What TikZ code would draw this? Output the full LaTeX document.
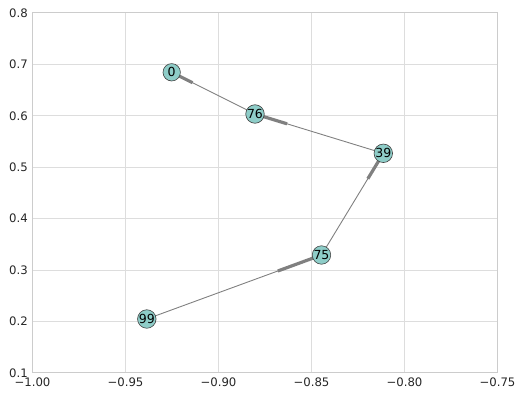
\documentclass[tikz,border=0pt]{standalone}
\usepackage{fontspec}
\setmainfont{DejaVu Sans}
\usetikzlibrary{calc,backgrounds}
\definecolor{nodefill}{RGB}{142,205,200}
\definecolor{gridc}{RGB}{221,221,221}
\definecolor{framec}{RGB}{204,204,204}
\definecolor{edgec}{RGB}{128,128,128}
\definecolor{txt}{RGB}{38,38,38}
\begin{document}
\begin{tikzpicture}[x=1pt,y=-1pt,
  gridline/.style={draw=gridc,line width=0.8pt},
  frameline/.style={draw=framec,line width=1pt},
  vnode/.style={circle,draw=black!75,line width=0.6pt,fill=nodefill,minimum size=17.4pt,inner sep=0pt,font=\fontsize{12.5}{13}\selectfont},
  edgeline/.style={draw=edgec,line width=0.9pt},
  stub/.style={draw=edgec,line width=3.2pt},
  ticklab/.style={font=\fontsize{11.7}{12}\selectfont,text=txt,inner sep=0pt}]
\useasboundingbox (0,0) rectangle (523,398);
% nodes
\node[vnode] (n0) at (171.7,72.3) {0};
\node[vnode] (n76) at (255,114) {76};
\node[vnode] (n39) at (383.3,153.3) {39};
\node[vnode] (n75) at (321.5,255) {75};
\node[vnode] (n99) at (146.8,319) {99};
\begin{pgfonlayer}{background}
% grid
\foreach \xx in {125.5,218.5,311.5,404.5} \draw[gridline] (\xx,13) -- (\xx,373);
\foreach \yy in {321.6,270.1,218.7,167.3,115.9,64.4} \draw[gridline] (32.5,\yy) -- (497.5,\yy);
\draw[frameline] (32.5,13) rectangle (497.5,373);
% edges
\foreach \s/\t in {n76/n0,n39/n76,n75/n39,n99/n75}{
  \draw[edgeline] (\s.center) -- (\t.center);
  \draw[stub] ($(\s.center)!0.75!(\t.center)$) -- (\t.center);
}
\end{pgfonlayer}
% tick labels
\foreach \xx/\lab in {32.5/−1.00,125.5/−0.95,218.5/−0.90,311.5/−0.85,404.5/−0.80,497.5/−0.75}
  \node[ticklab,anchor=north] (xl) at (\xx,377.5) {\lab};
\foreach \yy/\lab in {373/0.1,321.6/0.2,270.1/0.3,218.7/0.4,167.3/0.5,115.9/0.6,64.4/0.7,13/0.8}
  \node[ticklab,anchor=east] (yl) at (28,\yy) {\lab};
\end{tikzpicture}
\end{document}
